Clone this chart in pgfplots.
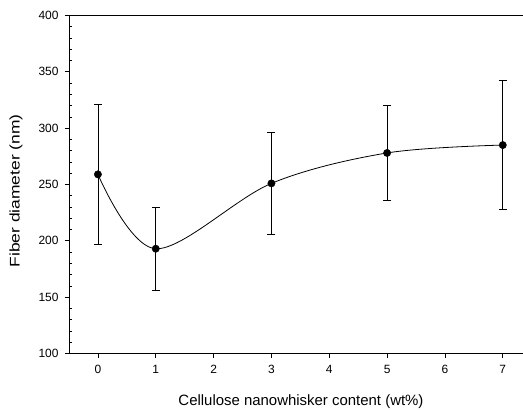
\documentclass[border=0pt]{standalone}
\usepackage{fontspec}
\setmainfont{Liberation Sans}
\usepackage{graphicx}
\usepackage{pgfplots}
\pgfplotsset{compat=1.18}
\usetikzlibrary{calc}

\begin{document}
\begin{tikzpicture}
\begin{axis}[
  scale only axis,
  width=454bp, height=338bp,
  xmin=-0.5, xmax=7.35, ymin=100, ymax=400,
  axis x line*=bottom, axis y line*=left,
  axis line style={black, line width=0.8pt},
  xtick={0,1,2,3,4,5,6,7},
  ytick={100,150,200,250,300,350,400},
  minor y tick num=4,
  tick align=outside,
  major tick length=4bp,
  minor tick length=2.6bp,
  minor y tick style={xshift=2.6bp},
  tick style={black, line width=0.8pt},
  tick label style={font=\fontsize{12}{14}\selectfont},
  /pgf/number format/assume math mode=true,
  yticklabel style={xshift=-3bp},
  xticklabel style={yshift=-4bp},
  xlabel={Cellulose nanowhisker content (wt\%)},
  xlabel style={at={(rel axis cs:0.511,-0.1435)}, anchor=center,
    font=\fontsize{15}{17}\selectfont},
  ylabel={\scalebox{1.25}[1]{Fiber diameter (nm)}},
  ylabel style={at={(rel axis cs:-0.1167,0.481)}, anchor=center,
    font=\fontsize{14}{16}\selectfont},
  clip=false,
]
\coordinate (sw) at (rel axis cs:0,0);
\coordinate (ne) at (rel axis cs:1,1);
\draw[black, line width=0.8pt] (rel axis cs:0,1) -- (rel axis cs:1,1);

% spline through the means
\addplot[black, line width=0.8pt, smooth, tension=0.55, no marks]
  coordinates {(0,259) (1,193) (3,251) (5,278) (7,285)};

% means with error bars
\addplot[black, only marks, mark=*, mark size=3.7pt,
  error bars/.cd, y dir=both, y explicit,
  error bar style={line width=0.8pt},
  error mark options={rotate=90, mark size=4bp, line width=0.8pt}]
  coordinates {
    (0,259) +- (0,62)
    (1,193) +- (0,37)
    (3,251) +- (0,45)
    (5,278) +- (0,42)
    (7,285) +- (0,57)
  };
\end{axis}
\pgfresetboundingbox
\path[use as bounding box] ($(sw)+(-69bp,-55.5bp)$) rectangle ($(ne)+(0bp,15.5bp)$);
\end{tikzpicture}
\end{document}
